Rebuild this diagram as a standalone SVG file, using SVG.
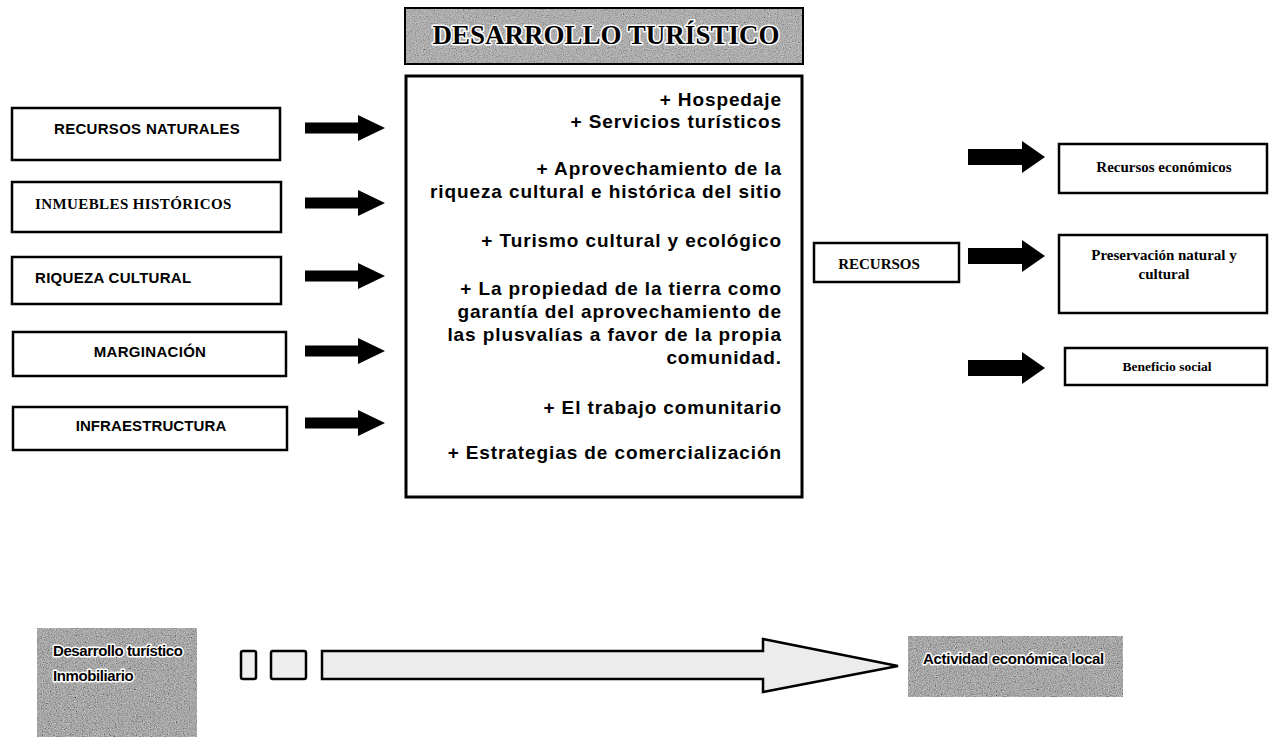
<svg xmlns="http://www.w3.org/2000/svg" xmlns:xlink="http://www.w3.org/1999/xlink" width="1270" height="737" viewBox="0 0 1270 737">
<style>
.box{fill:#fff;stroke:#000;stroke-width:2.5}
.sans{font-family:"Liberation Sans",Arial,sans-serif;font-weight:bold;fill:#000}
.serif{font-family:"Liberation Serif","Times New Roman",serif;font-weight:bold;fill:#000}
.lt{font-size:15px}
.main{font-size:19px;letter-spacing:0.9px;text-anchor:end}
.rt{font-size:15px;text-anchor:middle}
.halo{stroke:#fff;stroke-width:3;paint-order:stroke;stroke-linejoin:round}
.arr{fill:#000}
</style>
<defs>
<filter id="grain" x="0" y="0" width="100%" height="100%">
<feTurbulence type="fractalNoise" baseFrequency="0.85" numOctaves="2" seed="7" result="t"/>
<feColorMatrix in="t" type="matrix" values="0.6 0.6 0.6 0 -0.45  0.6 0.6 0.6 0 -0.45  0.6 0.6 0.6 0 -0.45  0 0 0 0 1" result="g"/>
<feComposite in="g" in2="SourceGraphic" operator="in"/>
</filter>
<path id="arrowL" d="M0,-5.5 H53 V-13 L80,0 L53,13 V5.5 H0 Z"/>
<path id="arrowR" d="M0,-8 H54 V-16 L77,0 L54,16 V8 H0 Z"/>
</defs>
<rect width="1270" height="737" fill="#fff"/>

<g id="title">
<rect x="405" y="8" width="398" height="56" fill="#a6a6a6" stroke="#000" stroke-width="2"/>
<rect x="406" y="9" width="396" height="54" fill="#a6a6a6" filter="url(#grain)" opacity="0.55"/>
<text x="606" y="44" class="serif halo" font-size="27" text-anchor="middle">DESARROLLO TURÍSTICO</text>
</g>

<g id="n-recursos-naturales">
<rect class="box" x="12" y="108" width="268" height="52"/>
<text x="147" y="134" class="sans lt" text-anchor="middle" letter-spacing="0.3">RECURSOS NATURALES</text>
</g>
<g id="n-inmuebles">
<rect class="box" x="12" y="182" width="269" height="50"/>
<text x="35" y="209" class="serif" font-size="15" letter-spacing="0.4">INMUEBLES HISTÓRICOS</text>
</g>
<g id="n-riqueza">
<rect class="box" x="12" y="257" width="269" height="47"/>
<text x="35" y="283" class="sans lt" letter-spacing="0.3">RIQUEZA CULTURAL</text>
</g>
<g id="n-marginacion">
<rect class="box" x="13" y="332" width="273" height="44"/>
<text x="150" y="357" class="sans lt" text-anchor="middle" letter-spacing="0.3">MARGINACIÓN</text>
</g>
<g id="n-infraestructura">
<rect class="box" x="13" y="407" width="274" height="43"/>
<text x="151" y="431" class="sans lt" text-anchor="middle" letter-spacing="0.1">INFRAESTRUCTURA</text>
</g>

<g id="n-main">
<rect x="406" y="76" width="396" height="421" fill="#fff" stroke="#000" stroke-width="3"/>
<text class="sans main" x="782" y="106">+ Hospedaje</text>
<text class="sans main" x="782" y="128">+ Servicios turísticos</text>
<text class="sans main" x="782" y="175">+ Aprovechamiento de la</text>
<text class="sans main" x="782" y="198">riqueza cultural e histórica del sitio</text>
<text class="sans main" x="782" y="247">+ Turismo cultural y ecológico</text>
<text class="sans main" x="782" y="295">+ La propiedad de la tierra como</text>
<text class="sans main" x="782" y="318">garantía del aprovechamiento de</text>
<text class="sans main" x="782" y="341">las plusvalías a favor de la propia</text>
<text class="sans main" x="782" y="364">comunidad.</text>
<text class="sans main" x="782" y="414">+ El trabajo comunitario</text>
<text class="sans main" x="782" y="459">+ Estrategias de comercialización</text>
</g>

<g id="n-recursos">
<rect class="box" x="814" y="243" width="145" height="39"/>
<text x="879" y="269" class="serif" font-size="15" text-anchor="middle">RECURSOS</text>
</g>
<g id="n-economicos">
<rect class="box" x="1059" y="144" width="208" height="49"/>
<text x="1164" y="172" class="serif rt">Recursos económicos</text>
</g>
<g id="n-preservacion">
<rect class="box" x="1059" y="235" width="208" height="78"/>
<text x="1164" y="260" class="serif rt">Preservación natural y</text>
<text x="1164" y="279" class="serif rt">cultural</text>
</g>
<g id="n-beneficio">
<rect class="box" x="1065" y="348" width="202" height="37"/>
<text x="1167" y="371" class="serif" font-size="13.5" text-anchor="middle">Beneficio social</text>
</g>

<g id="connectors">
<use xlink:href="#arrowL" href="#arrowL" class="arr" transform="translate(305,128)"/>
<use xlink:href="#arrowL" href="#arrowL" class="arr" transform="translate(305,203)"/>
<use xlink:href="#arrowL" href="#arrowL" class="arr" transform="translate(305,276)"/>
<use xlink:href="#arrowL" href="#arrowL" class="arr" transform="translate(305,351)"/>
<use xlink:href="#arrowL" href="#arrowL" class="arr" transform="translate(305,423)"/>
<use xlink:href="#arrowR" href="#arrowR" class="arr" transform="translate(968,157)"/>
<use xlink:href="#arrowR" href="#arrowR" class="arr" transform="translate(968,256)"/>
<use xlink:href="#arrowR" href="#arrowR" class="arr" transform="translate(968,368)"/>
</g>

<g id="n-desarrollo-inmobiliario">
<rect x="37" y="628" width="160" height="112" fill="#8a8a8a"/>
<rect x="37" y="628" width="160" height="112" fill="#8a8a8a" filter="url(#grain)" opacity="0.7"/>
<text x="53" y="656" class="sans halo" font-size="15" letter-spacing="-0.4">Desarrollo turístico</text>
<text x="53" y="681" class="sans halo" font-size="15" letter-spacing="-0.4">Inmobiliario</text>
</g>

<g id="n-small-a">
<rect x="241" y="651" width="15" height="28" rx="2" fill="#eee" stroke="#000" stroke-width="2.5"/>
</g>
<g id="n-small-b">
<rect x="271" y="651" width="35" height="28" rx="2" fill="#eee" stroke="#000" stroke-width="2.5"/>
</g>
<g id="n-big-arrow">
<path d="M322,651 H763 V639 L898,666 L763,692 V679 H322 Z" fill="#ececec" stroke="#000" stroke-width="2.5" stroke-linejoin="miter"/>
</g>

<g id="n-actividad">
<rect x="908" y="636" width="215" height="61" fill="#8a8a8a"/>
<rect x="908" y="636" width="215" height="61" fill="#8a8a8a" filter="url(#grain)" opacity="0.7"/>
<text x="923" y="664" class="sans halo" font-size="15" letter-spacing="-0.3">Actividad económica local</text>
</g>
</svg>
